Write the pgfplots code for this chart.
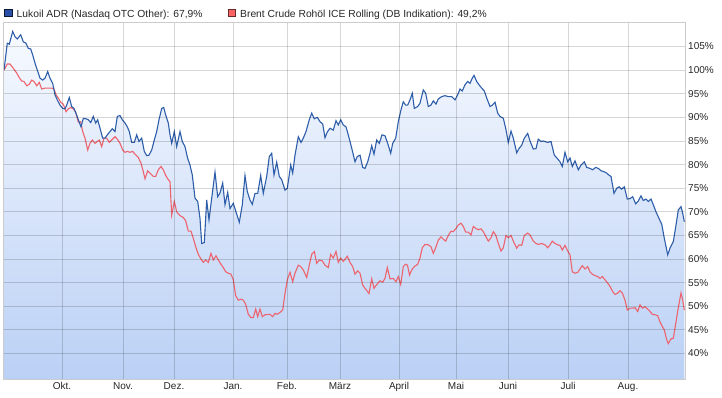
\documentclass[border=0pt]{standalone}
\usepackage{pgfplots}
\pgfplotsset{compat=1.18}
\usepackage{pgfplotstable}
\usepackage{fontspec}
\setmainfont{Liberation Sans}
\definecolor{lkblue}{RGB}{46,94,170}
\definecolor{lkbluesq}{RGB}{40,80,168}
\definecolor{brred}{RGB}{238,100,110}
\definecolor{brredsq}{RGB}{255,100,100}
\definecolor{filltop}{RGB}{247,250,255}
\definecolor{fillbot}{RGB}{186,208,245}

\pgfplotstableread{
x y
4 100
7.3 105.7
9.3 105.5
12.7 108.2
15 107.1
17.3 106.6
20.7 107.5
23.3 106
26 105.7
28.3 104.6
30.7 104.5
32.7 103.2
35 101.5
37.3 100
40 98.3
42.7 97.9
45 98.3
47.7 99.7
50 98.3
52.7 97.2
55 94.8
57.3 93.7
60 92.6
62.7 91.9
65 91.8
66.7 92.6
69.3 94.2
71.7 92.3
74 91.9
76.7 90.5
79 89.1
81 88
83.3 89.8
86 89.7
88.3 89.5
90.7 88.9
93.3 90.2
95.7 88.8
97.7 89.5
100 87.7
102.7 85.6
105 85.6
107.3 86.3
110 87
112.3 87.6
115 87
117.3 90.2
120 90.4
122.3 89.5
125 88.8
127.3 88
129.3 87
131.7 84.7
134.3 84.7
136.7 86.3
139 84.9
141.7 85.6
144.3 82.8
146.7 81.9
149 82
151.7 83.1
154.3 85.2
156.7 87
159 89.5
161.7 91.9
163.7 92.1
165.7 90.5
168.3 88.8
170 86.3
171.7 84.5
174.3 87
176.7 83.8
180 87
182.3 84.9
185 83.8
187.7 81.3
190 79.9
192.3 77.8
195 72.9
197.7 72.2
200 68.6
201.7 63.3
204.3 63.5
206.7 72.5
209 68.3
211.7 72.9
215 78.4
217.7 73.2
220 74
222.7 76.1
225 71.5
227.7 74.1
230 70.7
233.3 71.8
236 70
239.3 67.8
242.3 71.5
245 77.7
247.3 74.3
250 72.5
252.3 71.6
255 73.9
257.7 73.9
260.7 77.7
263.3 73.9
266.7 77.5
269.3 81.7
271.7 82.4
274 77.8
276.7 80.5
279.3 77.5
281.7 76.8
285 74.6
287.3 75
290.7 79.9
292.7 78.2
295 82
298.3 85.9
301 84.7
303.3 85.6
306 87
309.3 89.5
311.7 90.9
314.3 89.7
317.3 90
320 89.1
322.7 88.6
325 85.7
327.3 86.9
330 87.7
333.3 87.3
336 89.3
338.3 88.4
340.7 89.5
343.3 88.4
346 88
348.3 86.3
351.7 83.5
355 80.6
357.3 81.7
360 82
362.7 79.4
365 79.2
367.7 80.6
370 82.4
371.7 84
374 82.2
376.7 85.2
379.3 84.5
382 86.3
385 86.1
387.7 84.5
390.7 82.4
392.7 84.5
395.7 85.6
398.3 89.1
401 91.6
403.3 93.3
405.7 92.6
407.7 92.6
410 93.7
412.3 95.1
414.3 91.9
417.7 92.3
420 93
423.3 95.8
425.7 95.1
428.3 92.3
431 92.6
433.3 93.5
436 92.8
438.3 93.9
441.7 94.4
445 94.6
448.3 94.4
451.7 94.4
455 93.7
457.7 94.8
460 96
462.3 95.6
465 96.9
467.7 97.6
470 97.2
472.3 98.3
474 98.9
476.7 97.6
479 96.9
481.7 96.2
484.3 95.6
486.7 94.1
490 92.3
492.3 92.6
495 93.2
497.7 90.9
500 90.2
503.3 89.8
505.7 87.7
508.3 84.7
511 87.1
513.3 85.6
516.7 82.5
519 83.4
521.7 84.1
524.3 85.6
527.7 86.6
530 85
533.3 83.3
536 83.4
538.3 85.4
541 84.9
543.3 85
547.7 84.7
551 84.9
554.3 82
557.7 81.2
560 80.6
562.3 79.6
565 82.6
567.7 80.6
570 81.4
572.3 79.6
575 80.8
578.3 78.9
581 79.9
584.3 80.6
586.7 79.4
590 79.2
592.7 78.9
595.7 79.4
598.3 79.2
601 78.7
604 78.5
606.7 78.2
609.3 77.7
611 77.5
614 73.9
616.7 75
619 75.3
621.7 74.8
624.3 75.3
627.3 72.7
630 72.8
632.7 73.2
635.7 71.7
638.3 72.3
641 73.4
643.3 72.4
646 72.7
648.3 72.2
651 72.7
653.3 71.5
656 70
659 68.6
661.7 67.4
664.3 64.4
667.7 60.9
670 62.3
673.3 63.7
676 67.2
678.3 70.4
681 71.1
682.7 69.7
684.3 67.9
}\lukoil

\pgfplotstableread{
x y
4 100
7.3 101.3
10 101.3
13.3 100.4
16.7 99.4
19.3 98.4
21.7 97.7
24 97.6
26.7 96.7
29.3 97
31.7 97.9
34 97.6
36.7 96.7
39.3 97.4
41.7 96
45 96.2
48.3 96.2
51.7 96.2
54 96
56 94.8
58.3 94.1
60.7 93.2
63.3 92.8
66 91.2
68.3 91.8
70.7 92.1
73.3 91.8
75.7 91.1
78.3 89
80.7 89.1
82.7 87
85 85.6
87.7 83.1
90 84.5
92.3 85.2
95 84.5
97.3 84.9
99.3 85.2
101.7 83.8
104 85.6
106.7 85.6
109.3 84.7
111.7 85.2
115 85.9
117.3 85.4
120 84.5
122.7 83.1
125 82.6
127.3 82.8
130 82.6
132.7 82.8
135 82.2
138.3 81.5
141 80.3
143.3 78.5
145 77
147.7 78.7
150 78.2
153.3 77.5
155.7 77.5
158.3 78.9
161 79.6
163.3 78.9
165.7 77.7
168.3 76.8
170 76.4
171.7 69.3
174.3 72.2
176.7 70
180 69.2
183.3 68.8
185.7 68.1
188.3 65.9
191 65.9
193.3 64.4
195.7 62.6
198.3 61
201 60
203.3 59.3
205.7 59.8
208.3 59.3
211 61.2
213.3 59.8
216 60.7
218.3 59.8
221 58.9
223.3 58.2
225.7 57.3
228.3 57
231 56.8
233.3 55.6
235.7 52.2
238.3 51.3
241 51.5
243.3 51.3
245.7 50.4
248.3 48.3
251 47.6
253.3 47.6
255.7 49.4
257.7 47.8
260 49.4
262.3 47.8
265 48.2
268.3 48.3
270 48.3
272.7 47.8
275 48.5
277.3 48.3
280 48.7
282.7 49.2
285 52.7
287.3 55.6
290 57.2
292.7 55.2
295 57
298.3 58.7
300.7 58.4
303.3 57.7
306.7 56.1
309.3 58.7
311.7 61
314.3 61.6
316.7 59.1
319.3 59.8
322.3 59.6
325 58.7
328.3 58.2
330.7 61
333.3 60.2
336 61.6
338.3 59.3
340.7 60.2
343.3 59.5
347.3 60.6
350 59.3
352.7 58.4
355 56.8
357.7 57.5
360 57
362.7 54.5
365 53.8
369 52.7
371.7 55.8
374 53.8
376.7 54.6
380 55.4
382.7 55.1
385 55.9
387.3 58.2
390 55.8
393.3 55.9
396 55.2
398.3 56.3
400.7 54.6
403.3 58.4
405.5 58.9
407.5 58.7
409.5 56.6
411.7 57.7
414.3 58.4
417.7 58.9
420 60.2
422.3 62.4
425 63.1
428.3 63
431 62.6
433.3 61.2
435.7 62.4
438.3 64
441 64.7
443.3 64.2
445.7 63.8
448.3 65
451 65.9
453.3 65.8
455.7 66.4
458.3 67.2
461 67.6
463.3 66.9
465.7 65.7
468.3 65.7
471 65.1
473.3 66.9
475.7 66.5
478.3 66.2
481 66.4
483.3 65.8
486 64.7
488.3 63.8
491 64.5
493.3 65.8
495.7 65.1
498.3 63.3
501 61.7
503.3 62.4
506 65
508.3 64.5
511 65
513.3 63.8
516.7 62.3
519 63
521.7 62.9
524.3 65
527.7 65.5
530 65.1
533.3 63.8
536 63.3
538.3 63.1
541.7 63.3
545 63
547.7 62.4
550 63
552.3 63.8
555 63.3
557.7 63
560 62.9
562.3 61.9
565 62.9
567.7 61.7
570 60.9
572.3 57.3
575 57
577.7 57.2
580 57.9
582.3 58.6
585 57.9
587.7 58.4
590 57.3
592.3 56.8
595 56.5
597.7 56.3
600 55.9
602.3 56.3
605 55.6
607.7 54.9
610 54.2
612.7 53.1
615 52.5
617.7 52.8
620 53.3
622.3 52.8
625 51.3
627.3 49.2
630 49.6
632.7 49.6
635 49.7
637.7 48.9
640 50.3
642.3 49.6
645 49.9
647.7 49.4
650 48.9
652.3 48.3
655 48.2
657.7 48
660 46.7
662.3 45.7
664.3 45
666.7 42.9
668.3 42.1
671 43.1
673.3 43.2
676 46.7
678.3 49.7
681 52.8
682.7 51.3
684.3 49.2
}\brent

\begin{document}
\begin{tikzpicture}[x=1pt,y=1pt]
\path[use as bounding box] (0,0) rectangle (722,398);
\begin{axis}[
  at={(3pt,19pt)}, anchor=south west,
  scale only axis, width=682pt, height=357pt,
  xmin=3, xmax=685, ymin=34.6, ymax=110.2,
  axis on top,
  axis line style={black!20},
  grid=major,
  major grid style={black, opacity=0.16, line width=0.8pt},
  major tick length=0pt,
  xtick={62,123,174,233,287,340,399,456,508,568,628},
  xticklabels={Okt.,Nov.,Dez.,Jan.,Feb.,März,April,Mai,Juni,Juli,Aug.},
  ytick={40,45,...,105},
  yticklabel pos=right,
  yticklabel={\pgfmathprintnumber{\tick}\%},
  /pgf/number format/assume math mode=true,
  ticklabel style={font=\fontsize{10}{12}\selectfont, text=black!85},
  xticklabel style={inner sep=0pt, anchor=north, yshift=-3.5pt},
  yticklabel style={inner sep=0pt, anchor=west, xshift=3pt},
]
\addplot[draw=none, top color=filltop, bottom color=fillbot, forget plot]
  table[x=x,y=y] {\lukoil} -- (axis cs:684.3,34.6) -- (axis cs:4,34.6) -- cycle;
\addplot[brred, line width=1.1pt, mark=none] table[x=x,y=y] {\brent};
\addplot[lkblue, line width=1.1pt, mark=none] table[x=x,y=y] {\lukoil};
\end{axis}
\filldraw[fill=lkbluesq, draw=black!70!lkbluesq, line width=0.6pt] (4.5,381.5) rectangle (12,389);
\node[anchor=base west, inner sep=0pt, font=\fontsize{10.3}{12}\selectfont, text=black!85] at (16.5,380.8) {Lukoil ADR (Nasdaq OTC Other): 67,9\%};
\filldraw[fill=brredsq, draw=black!60!brredsq, line width=0.6pt] (228,381.5) rectangle (235.5,389);
\node[anchor=base west, inner sep=0pt, font=\fontsize{10.3}{12}\selectfont, text=black!85] at (240,380.8) {Brent Crude Rohöl ICE Rolling (DB Indikation): 49,2\%};
\end{tikzpicture}
\end{document}
